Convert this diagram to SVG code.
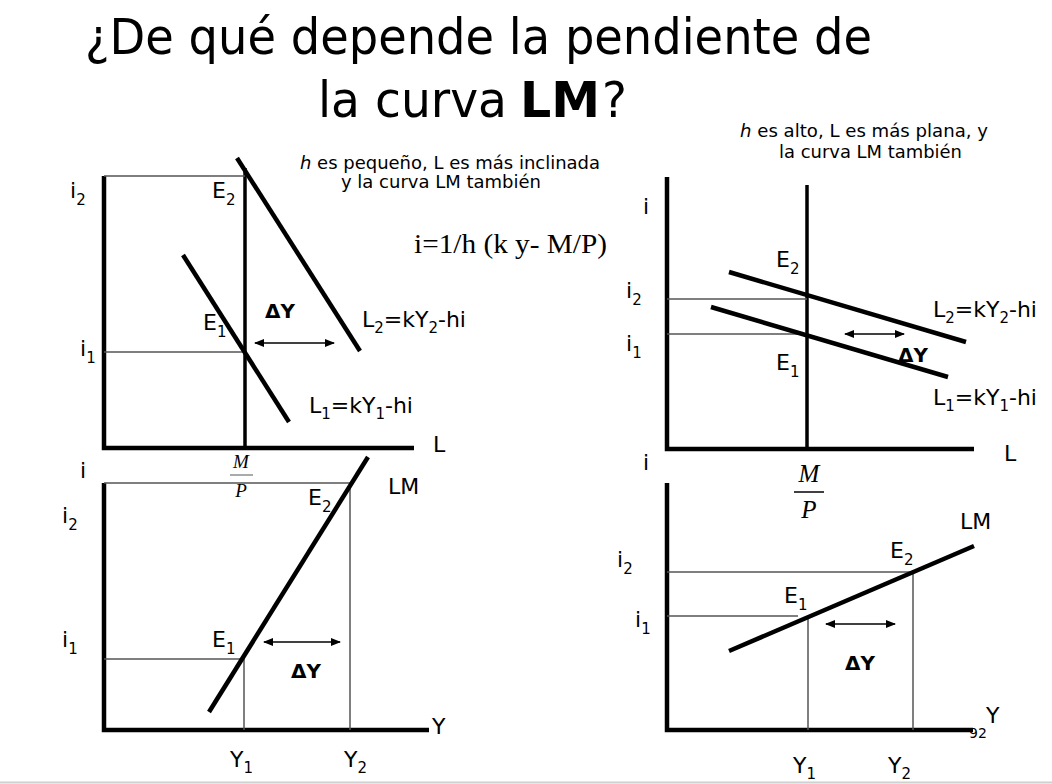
<svg xmlns="http://www.w3.org/2000/svg" width="1052" height="784" viewBox="0 0 1052 784">
<defs>
<marker id="ah" viewBox="0 0 10 8" refX="9" refY="4" markerWidth="10" markerHeight="8" markerUnits="userSpaceOnUse" orient="auto-start-reverse"><path d="M0,0 L10,4 L0,8 z" fill="#000"/></marker>
</defs>
<style>
.t{font-family:"DejaVu Sans",Verdana,sans-serif;fill:#000}
.lab{font-size:22px}
.sub{font-size:15px}
.hd{font-size:18px}
.axis{stroke:#000;stroke-width:4.5;fill:none}
.curve{stroke:#000;stroke-width:4.5;fill:none}
.ms{stroke:#000;stroke-width:3.5}
.thin{stroke:#555;stroke-width:1.5}
.arr{stroke:#000;stroke-width:1.5;marker-start:url(#ah);marker-end:url(#ah)}
.dy{font-size:20px;font-weight:bold}
.serif{font-family:"Liberation Serif","Times New Roman",serif;fill:#000}
</style>
<rect width="1052" height="784" fill="#fff"/>
<line x1="0" y1="782.5" x2="1052" y2="782.5" stroke="#d0d0d0" stroke-width="2"/>

<g id="title" class="t">
<text x="85" y="54" font-size="50" textLength="787" lengthAdjust="spacingAndGlyphs">¿De qué depende la pendiente de</text>
<text x="318" y="117" font-size="50" textLength="189" lengthAdjust="spacingAndGlyphs">la curva</text>
<text x="520" y="117" font-size="50" font-weight="bold" textLength="80" lengthAdjust="spacingAndGlyphs">LM</text>
<text x="602" y="117" font-size="50" textLength="25" lengthAdjust="spacingAndGlyphs">?</text>
</g>

<g id="panel-top-left">
<polyline class="axis" points="104,176 104,448 414,448"/>
<line class="ms" x1="245" y1="168" x2="245" y2="448"/>
<line class="thin" x1="104" y1="176" x2="245" y2="176"/>
<line class="thin" x1="104" y1="352" x2="245" y2="352"/>
<line class="curve" x1="237" y1="158" x2="360" y2="351"/>
<line class="curve" x1="183" y1="255" x2="289" y2="422"/>
<line class="arr" x1="255" y1="343" x2="334" y2="343"/>
<g class="t lab">
<text x="70" y="198">i<tspan class="sub" dy="7">2</tspan></text>
<text x="212" y="198">E<tspan class="sub" dy="7">2</tspan></text>
<text x="203" y="330">E<tspan class="sub" dy="7">1</tspan></text>
<text x="80" y="356">i<tspan class="sub" dy="7">1</tspan></text>
<text x="362" y="327">L<tspan class="sub" dy="6">2</tspan><tspan dy="-6">=kY</tspan><tspan class="sub" dy="6">2</tspan><tspan dy="-6">-hi</tspan></text>
<text x="309" y="413">L<tspan class="sub" dy="6">1</tspan><tspan dy="-6">=kY</tspan><tspan class="sub" dy="6">1</tspan><tspan dy="-6">-hi</tspan></text>
<text x="433" y="452">L</text>
</g>
<text class="t dy" x="265" y="318">ΔY</text>
<text class="serif" x="414" y="253" font-size="28" textLength="193" lengthAdjust="spacingAndGlyphs">i=1/h (k y- M/P)</text>
<text class="t hd" x="300" y="169" textLength="300" lengthAdjust="spacingAndGlyphs"><tspan font-style="italic">h</tspan> es pequeño, L es más inclinada</text>
<text class="t hd" x="341" y="188" textLength="200" lengthAdjust="spacingAndGlyphs">y la curva LM también</text>
</g>

<g id="panel-top-right">
<rect x="611" y="111" width="4" height="4" fill="#000"/>
<polyline class="axis" points="667,177 667,449 974,449"/>
<line class="ms" x1="807" y1="185" x2="807" y2="449"/>
<line class="thin" x1="667" y1="299" x2="807" y2="299"/>
<line class="thin" x1="667" y1="334" x2="807" y2="334"/>
<line class="curve" x1="729" y1="272" x2="966" y2="342"/>
<line class="curve" x1="711" y1="307" x2="948" y2="377"/>
<line class="arr" x1="845" y1="334" x2="904" y2="334"/>
<g class="t lab">
<text x="643" y="214">i</text>
<text x="776" y="267">E<tspan class="sub" dy="7">2</tspan></text>
<text x="626" y="298">i<tspan class="sub" dy="7">2</tspan></text>
<text x="626" y="351">i<tspan class="sub" dy="7">1</tspan></text>
<text x="776" y="370">E<tspan class="sub" dy="7">1</tspan></text>
<text x="933" y="317">L<tspan class="sub" dy="6">2</tspan><tspan dy="-6">=kY</tspan><tspan class="sub" dy="6">2</tspan><tspan dy="-6">-hi</tspan></text>
<text x="933" y="405">L<tspan class="sub" dy="6">1</tspan><tspan dy="-6">=kY</tspan><tspan class="sub" dy="6">1</tspan><tspan dy="-6">-hi</tspan></text>
<text x="1004" y="461">L</text>
</g>
<text class="t dy" x="898" y="362">ΔY</text>
<text class="t hd" x="740" y="137" textLength="248" lengthAdjust="spacingAndGlyphs"><tspan font-style="italic">h</tspan> es alto, L es más plana, y</text>
<text class="t hd" x="779" y="158" textLength="183" lengthAdjust="spacingAndGlyphs">la curva LM también</text>
</g>

<g id="panel-bottom-left">
<text class="t lab" x="80" y="478">i</text>
<text class="serif" x="241" y="468" font-size="19" font-style="italic" text-anchor="middle">M</text>
<line x1="230" y1="475" x2="253" y2="475" stroke="#aaa" stroke-width="2"/>
<text class="serif" x="241" y="497" font-size="19" font-style="italic" text-anchor="middle">P</text>
<polyline class="axis" points="104,483 104,730 429,730"/>
<line class="thin" x1="104" y1="483" x2="350" y2="483"/>
<line class="thin" x1="350" y1="483" x2="350" y2="730"/>
<line class="thin" x1="104" y1="659" x2="244" y2="659"/>
<line class="thin" x1="244" y1="659" x2="244" y2="730"/>
<line class="curve" x1="209" y1="712" x2="368" y2="457"/>
<line class="arr" x1="264" y1="642" x2="340" y2="642"/>
<g class="t lab">
<text x="308" y="505">E<tspan class="sub" dy="7">2</tspan></text>
<text x="388" y="494">LM</text>
<text x="212" y="647">E<tspan class="sub" dy="7">1</tspan></text>
<text x="62" y="523">i<tspan class="sub" dy="7">2</tspan></text>
<text x="62" y="647">i<tspan class="sub" dy="7">1</tspan></text>
<text x="432" y="734">Y</text>
<text x="230" y="767">Y<tspan class="sub" dy="6">1</tspan></text>
<text x="344" y="767">Y<tspan class="sub" dy="6">2</tspan></text>
</g>
<text class="t dy" x="291" y="678">ΔY</text>
</g>

<g id="panel-bottom-right">
<text class="t lab" x="643" y="470">i</text>
<text class="serif" x="809" y="482" font-size="25" font-style="italic" text-anchor="middle">M</text>
<line x1="794" y1="492" x2="824" y2="492" stroke="#000" stroke-width="1.5"/>
<text class="serif" x="809" y="518" font-size="25" font-style="italic" text-anchor="middle">P</text>
<polyline class="axis" points="667,483 667,730 973,730"/>
<line class="thin" x1="667" y1="572" x2="913" y2="572"/>
<line class="thin" x1="913" y1="572" x2="913" y2="730"/>
<line class="thin" x1="667" y1="616" x2="798" y2="616"/>
<line class="thin" x1="808" y1="618" x2="808" y2="730"/>
<line class="curve" x1="729" y1="651" x2="974" y2="546"/>
<line class="arr" x1="826" y1="624" x2="895" y2="624"/>
<g class="t lab">
<text x="960" y="529">LM</text>
<text x="890" y="558">E<tspan class="sub" dy="7">2</tspan></text>
<text x="784" y="603">E<tspan class="sub" dy="7">1</tspan></text>
<text x="617" y="567">i<tspan class="sub" dy="7">2</tspan></text>
<text x="635" y="627">i<tspan class="sub" dy="7">1</tspan></text>
<text x="986" y="723">Y</text>
<text x="793" y="773">Y<tspan class="sub" dy="6">1</tspan></text>
<text x="888" y="773">Y<tspan class="sub" dy="6">2</tspan></text>
</g>
<text class="t" x="969" y="738" font-size="14" fill="#333">92</text>
<text class="t dy" x="845" y="670">ΔY</text>
</g>
</svg>
